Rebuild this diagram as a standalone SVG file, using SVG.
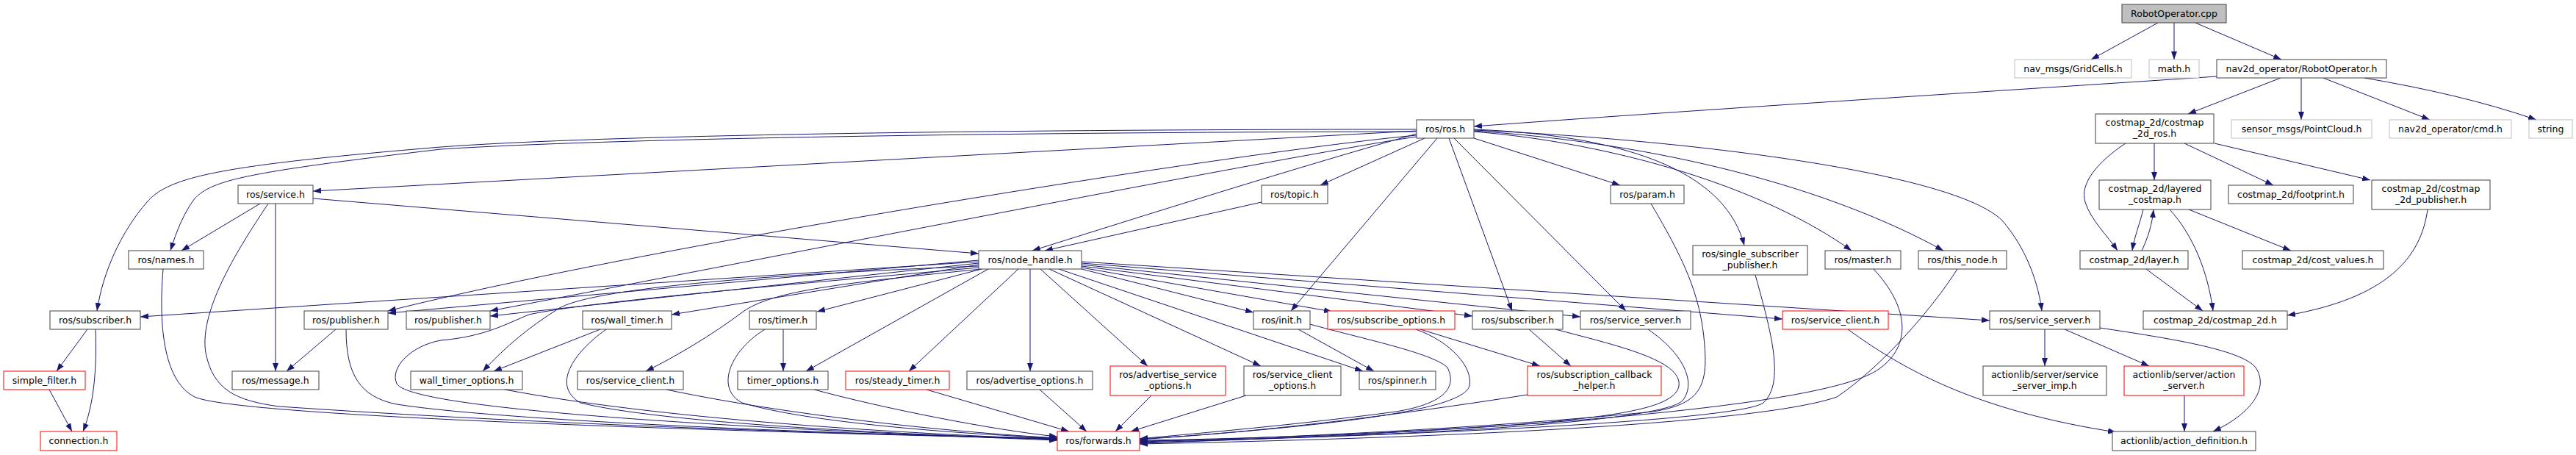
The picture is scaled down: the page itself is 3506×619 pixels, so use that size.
<svg xmlns="http://www.w3.org/2000/svg" width="3506" height="619" viewBox="0 0 3506 619">
<style>
text{font-family:"DejaVu Sans","Liberation Sans",sans-serif;font-size:12.5px;text-anchor:middle;fill:#000}
.n rect{fill:#fff;stroke:#404040;stroke-width:1}
.g rect{fill:#fff;stroke:#bfbfbf;stroke-width:1}
.r rect{fill:#fff;stroke:#ff0000;stroke-width:1}
.root rect{fill:#bfbfbf;stroke:#404040;stroke-width:1}
#edges path{fill:none;stroke:#191970;stroke-width:1;marker-end:url(#a)}
</style>
<defs>
<marker id="a" viewBox="0 0 11 8" refX="11" refY="4" markerWidth="11" markerHeight="8" orient="auto" markerUnits="userSpaceOnUse"><path d="M0,0 L11,4 L0,8 z" fill="#191970" stroke="none"/></marker>
</defs>
<rect x="0" y="0" width="3506" height="619" fill="#fff"/>
<g id="edges">
<path d="M2937,31 L2846,81"/>
<path d="M2959,31 L2959,81"/>
<path d="M2988,31 L3105,81"/>
<path d="M3017,104 C2700,125 2300,150 2006,172"/>
<path d="M3104,106 L2978,155"/>
<path d="M3132,106 L3132,163"/>
<path d="M3162,106 L3307,163"/>
<path d="M3218,106 C3300,120 3380,138 3452,163"/>
<path d="M2932,195 L2932,245"/>
<path d="M2973,195 L3094,252"/>
<path d="M3014,195 L3226,245"/>
<path d="M2893,195 C2855,220 2830,250 2838,275 C2846,300 2868,320 2882,341"/>
<path d="M2917,285 C2912,305 2905,322 2902,341"/>
<path d="M2915,341 C2924,322 2929,305 2931,285"/>
<path d="M2979,285 L3118,341"/>
<path d="M2953,285 C2985,320 3005,370 3012,423"/>
<path d="M2921,366 L2998,423"/>
<path d="M3304,285 C3295,350 3250,405 3113,429"/>
<path d="M1939,188 L1797,252"/>
<path d="M1956,188 L1757,423"/>
<path d="M1972,188 L2058,423"/>
<path d="M1979,188 L2213,423"/>
<path d="M2006,188 L2205,252"/>
<path d="M2006,176 C2230,185 2350,240 2374,334"/>
<path d="M2006,179 C2200,195 2400,255 2520,341"/>
<path d="M2006,178 C2260,195 2490,255 2645,341"/>
<path d="M2006,177 C2300,190 2660,235 2725,300 C2760,340 2775,390 2779,423"/>
<path d="M1928,182 C1750,232 1520,305 1405,341"/>
<path d="M1928,178 L426,260"/>
<path d="M1928,184 C1700,205 900,330 528,423"/>
<path d="M1928,186 C1750,212 1000,360 667,423"/>
<path d="M1928,176 C1300,176 800,185 600,200 C300,225 230,240 200,275 C165,315 140,370 132,423"/>
<path d="M1928,179 C1300,180 800,190 600,203 C330,235 290,245 265,270 C250,290 240,315 232,341"/>
<path d="M426,270 L1332,345"/>
<path d="M354,277 L247,341"/>
<path d="M375,277 L375,505"/>
<path d="M365,277 C330,330 270,420 280,480 C290,530 320,545 380,553 C700,575 1100,590 1439,596"/>
<path d="M1717,275 L1422,341"/>
<path d="M2247,277 C2290,350 2315,400 2320,470 C2325,530 2310,550 2250,560 C2000,585 1700,597 1551,601"/>
<path d="M222,366 C215,450 225,520 265,540 C320,565 900,585 1439,597"/>
<path d="M1332,356 L191,431"/>
<path d="M1332,354 L528,426"/>
<path d="M1332,358 L667,430"/>
<path d="M1332,360 L914,428"/>
<path d="M1332,362 C1000,375 800,395 760,420 C720,445 690,470 657,505"/>
<path d="M1332,364 C1100,385 800,410 720,428 C690,440 660,458 600,463 C560,470 530,500 540,522 C555,548 800,575 1439,599"/>
<path d="M1336,366 C1150,385 1050,395 1010,425 C970,455 920,485 879,505"/>
<path d="M1336,366 L1112,424"/>
<path d="M1345,366 L1097,505"/>
<path d="M1386,366 L1237,505"/>
<path d="M1402,366 L1402,505"/>
<path d="M1416,366 L1562,498"/>
<path d="M1428,366 L1716,498"/>
<path d="M1441,366 L1855,505"/>
<path d="M1472,366 L1706,425"/>
<path d="M1472,364 L1813,424"/>
<path d="M1472,362 L2004,430"/>
<path d="M1472,360 L2151,431"/>
<path d="M1472,358 L2426,434"/>
<path d="M1472,356 L2708,436"/>
<path d="M119,448 L77,505"/>
<path d="M130,448 C132,500 128,550 113,587"/>
<path d="M67,530 L98,587"/>
<path d="M457,448 L390,505"/>
<path d="M471,448 C471,510 490,540 540,550 C700,575 1200,592 1439,597"/>
<path d="M817,448 L672,505"/>
<path d="M825,448 C780,480 750,525 790,548 C900,575 1200,590 1439,598"/>
<path d="M687,530 C900,570 1200,588 1439,598"/>
<path d="M907,530 C1050,560 1250,585 1439,596"/>
<path d="M1066,448 L1066,505"/>
<path d="M1041,448 C990,480 975,530 1010,548 C1100,575 1300,590 1439,596"/>
<path d="M1108,530 C1200,555 1350,585 1439,594"/>
<path d="M1261,530 L1455,587"/>
<path d="M1415,530 L1479,587"/>
<path d="M1567,538 L1518,587"/>
<path d="M1696,538 L1539,587"/>
<path d="M1767,448 L1870,505"/>
<path d="M1783,441 C1850,460 1950,480 1970,500 C1985,530 1960,550 1900,560 C1750,580 1600,592 1551,597"/>
<path d="M1933,448 L2096,498"/>
<path d="M1927,448 C1975,465 2005,500 2000,525 C1990,560 1800,580 1551,598"/>
<path d="M2081,448 L2138,498"/>
<path d="M2117,448 C2200,470 2290,490 2285,525 C2280,555 2200,565 2100,575 C1900,590 1700,597 1551,599"/>
<path d="M2243,448 C2290,480 2310,520 2290,545 C2260,575 1900,595 1551,600"/>
<path d="M2079,537 C1900,565 1700,590 1551,597"/>
<path d="M2389,374 C2410,450 2430,520 2400,548 C2370,570 2000,590 1551,602"/>
<path d="M2550,366 C2600,420 2600,470 2560,500 C2500,550 2100,585 1551,603"/>
<path d="M2664,366 C2630,420 2560,500 2500,540 C2400,575 2000,595 1551,604"/>
<path d="M2515,448 C2600,510 2700,560 2880,588"/>
<path d="M2783,448 L2783,498"/>
<path d="M2810,448 L2925,498"/>
<path d="M2858,446 C2950,460 3050,475 3070,500 C3090,530 3060,565 3012,587"/>
<path d="M2973,538 L2973,587"/>
</g>
<g id="n0" class="root"><rect x="2888" y="6" width="142" height="25"/><text x="2959" y="23">RobotOperator.cpp</text></g>
<g id="n1" class="g"><rect x="2742" y="81" width="159" height="25"/><text x="2821.5" y="98">nav_msgs/GridCells.h</text></g>
<g id="n2" class="g"><rect x="2925" y="81" width="68" height="25"/><text x="2959" y="98">math.h</text></g>
<g id="n3" class="n"><rect x="3017" y="81" width="231" height="25"/><text x="3132.5" y="98">nav2d_operator/RobotOperator.h</text></g>
<g id="n4" class="n"><rect x="1928" y="163" width="78" height="25"/><text x="1967" y="180">ros/ros.h</text></g>
<g id="n5" class="n"><rect x="2852" y="155" width="161" height="40"/><text x="2932.5" y="170.5">costmap_2d/costmap</text><text x="2932.5" y="186">_2d_ros.h</text></g>
<g id="n6" class="g"><rect x="3037" y="163" width="191" height="25"/><text x="3132.5" y="180">sensor_msgs/PointCloud.h</text></g>
<g id="n7" class="g"><rect x="3252" y="163" width="166" height="25"/><text x="3335" y="180">nav2d_operator/cmd.h</text></g>
<g id="n8" class="g"><rect x="3442" y="163" width="59" height="25"/><text x="3471.5" y="180">string</text></g>
<g id="n9" class="n"><rect x="324" y="252" width="102" height="25"/><text x="375" y="269">ros/service.h</text></g>
<g id="n10" class="n"><rect x="1717" y="252" width="90" height="25"/><text x="1762" y="269">ros/topic.h</text></g>
<g id="n11" class="n"><rect x="2192" y="252" width="100" height="25"/><text x="2242" y="269">ros/param.h</text></g>
<g id="n12" class="n"><rect x="2857" y="245" width="152" height="40"/><text x="2933" y="260.5">costmap_2d/layered</text><text x="2933" y="276">_costmap.h</text></g>
<g id="n13" class="n"><rect x="3033" y="252" width="170" height="25"/><text x="3118" y="269">costmap_2d/footprint.h</text></g>
<g id="n14" class="n"><rect x="3228" y="245" width="161" height="40"/><text x="3308.5" y="260.5">costmap_2d/costmap</text><text x="3308.5" y="276">_2d_publisher.h</text></g>
<g id="n15" class="n"><rect x="175" y="341" width="102" height="25"/><text x="226" y="358">ros/names.h</text></g>
<g id="n16" class="n"><rect x="1332" y="341" width="140" height="25"/><text x="1402" y="358">ros/node_handle.h</text></g>
<g id="n17" class="n"><rect x="2304" y="334" width="156" height="40"/><text x="2382" y="349.5">ros/single_subscriber</text><text x="2382" y="365">_publisher.h</text></g>
<g id="n18" class="n"><rect x="2484" y="341" width="103" height="25"/><text x="2535.5" y="358">ros/master.h</text></g>
<g id="n19" class="n"><rect x="2611" y="341" width="120" height="25"/><text x="2671" y="358">ros/this_node.h</text></g>
<g id="n20" class="n"><rect x="2831" y="341" width="147" height="25"/><text x="2904.5" y="358">costmap_2d/layer.h</text></g>
<g id="n21" class="n"><rect x="3052" y="341" width="192" height="25"/><text x="3148" y="358">costmap_2d/cost_values.h</text></g>
<g id="n22" class="n"><rect x="68" y="423" width="123" height="25"/><text x="129.5" y="440">ros/subscriber.h</text></g>
<g id="n23" class="n"><rect x="414" y="423" width="114" height="25"/><text x="471" y="440">ros/publisher.h</text></g>
<g id="n24" class="n"><rect x="553" y="423" width="114" height="25"/><text x="610" y="440">ros/publisher.h</text></g>
<g id="n25" class="n"><rect x="793" y="423" width="121" height="25"/><text x="853.5" y="440">ros/wall_timer.h</text></g>
<g id="n26" class="n"><rect x="1020" y="423" width="91" height="25"/><text x="1065.5" y="440">ros/timer.h</text></g>
<g id="n27" class="n"><rect x="1706" y="423" width="77" height="25"/><text x="1744.5" y="440">ros/init.h</text></g>
<g id="n28" class="r"><rect x="1807" y="423" width="173" height="25"/><text x="1893.5" y="440">ros/subscribe_options.h</text></g>
<g id="n29" class="n"><rect x="2004" y="423" width="123" height="25"/><text x="2065.5" y="440">ros/subscriber.h</text></g>
<g id="n30" class="n"><rect x="2151" y="423" width="150" height="25"/><text x="2226" y="440">ros/service_server.h</text></g>
<g id="n31" class="r"><rect x="2426" y="423" width="144" height="25"/><text x="2498" y="440">ros/service_client.h</text></g>
<g id="n32" class="n"><rect x="2708" y="423" width="150" height="25"/><text x="2783" y="440">ros/service_server.h</text></g>
<g id="n33" class="n"><rect x="2917" y="423" width="196" height="25"/><text x="3015" y="440">costmap_2d/costmap_2d.h</text></g>
<g id="n34" class="r"><rect x="5" y="505" width="111" height="25"/><text x="60.5" y="522">simple_filter.h</text></g>
<g id="n35" class="n"><rect x="316" y="505" width="118" height="25"/><text x="375" y="522">ros/message.h</text></g>
<g id="n36" class="n"><rect x="559" y="505" width="152" height="25"/><text x="635" y="522">wall_timer_options.h</text></g>
<g id="n37" class="n"><rect x="786" y="505" width="144" height="25"/><text x="858" y="522">ros/service_client.h</text></g>
<g id="n38" class="n"><rect x="1004" y="505" width="123" height="25"/><text x="1065.5" y="522">timer_options.h</text></g>
<g id="n39" class="r"><rect x="1151" y="505" width="141" height="25"/><text x="1221.5" y="522">ros/steady_timer.h</text></g>
<g id="n40" class="n"><rect x="1316" y="505" width="171" height="25"/><text x="1401.5" y="522">ros/advertise_options.h</text></g>
<g id="n41" class="r"><rect x="1511" y="498" width="157" height="40"/><text x="1589.5" y="513.5">ros/advertise_service</text><text x="1589.5" y="529">_options.h</text></g>
<g id="n42" class="n"><rect x="1693" y="498" width="132" height="40"/><text x="1759" y="513.5">ros/service_client</text><text x="1759" y="529">_options.h</text></g>
<g id="n43" class="n"><rect x="1850" y="505" width="104" height="25"/><text x="1902" y="522">ros/spinner.h</text></g>
<g id="n44" class="r"><rect x="2079" y="498" width="182" height="40"/><text x="2170" y="513.5">ros/subscription_callback</text><text x="2170" y="529">_helper.h</text></g>
<g id="n45" class="n"><rect x="2699" y="498" width="168" height="40"/><text x="2783" y="513.5">actionlib/server/service</text><text x="2783" y="529">_server_imp.h</text></g>
<g id="n46" class="r"><rect x="2891" y="498" width="163" height="40"/><text x="2972.5" y="513.5">actionlib/server/action</text><text x="2972.5" y="529">_server.h</text></g>
<g id="n47" class="r"><rect x="55" y="587" width="104" height="26"/><text x="107" y="604">connection.h</text></g>
<g id="n48" class="r"><rect x="1439" y="587" width="112" height="26"/><text x="1495" y="604">ros/forwards.h</text></g>
<g id="n49" class="n"><rect x="2875" y="587" width="195" height="26"/><text x="2972.5" y="604">actionlib/action_definition.h</text></g>
</svg>
